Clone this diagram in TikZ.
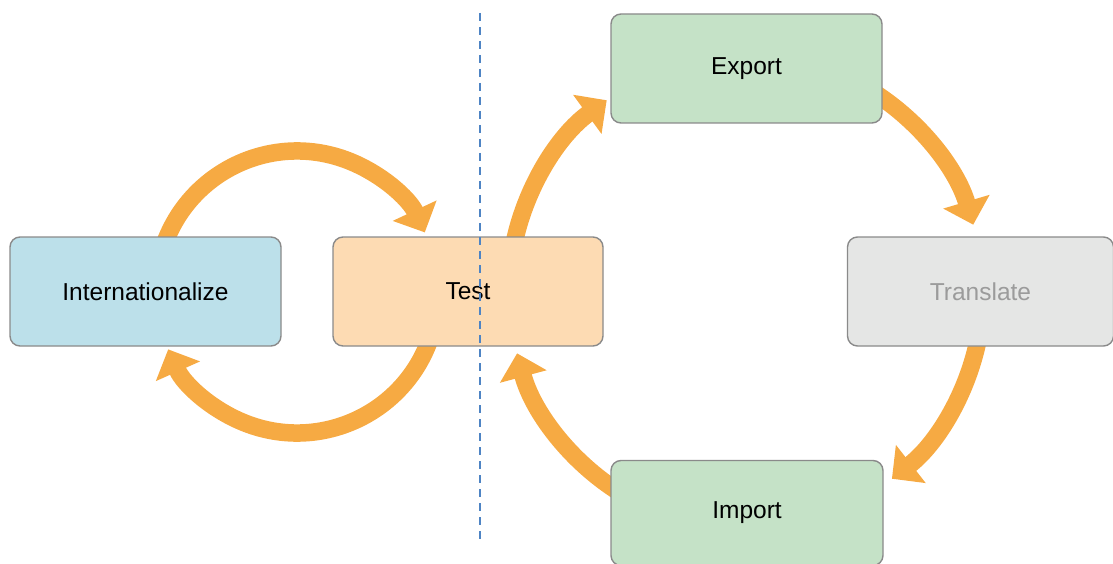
\documentclass[tikz,border=0pt]{standalone}
\usepackage{fontspec}
\setmainfont{Liberation Sans}
\usetikzlibrary{arrows.meta,backgrounds}

\definecolor{flow}{HTML}{F6AA43}
\definecolor{boxline}{HTML}{8A8A8A}
\definecolor{intlfill}{HTML}{BCE0EA}
\definecolor{testfill}{HTML}{FDDBB3}
\definecolor{locfill}{HTML}{C5E2C7}
\definecolor{transfill}{HTML}{E5E6E5}
\definecolor{transtext}{HTML}{9B9B9B}
\definecolor{divider}{HTML}{4E84C4}

\tikzset{
  stage/.style={draw=boxline, line width=1.4pt, rounded corners=10pt,
    minimum height=109pt, inner sep=0pt,
    font=\fontsize{24.5}{29}\selectfont},
  flowarrow/.style={draw=flow, line width=17.5pt,
    -{Triangle[length=24pt 0 0, width=47pt 0 0]}},
  divline/.style={draw=divider, line width=2pt, dash pattern=on 8pt off 6pt}
}

\begin{document}
\begin{tikzpicture}[x=1pt, y=1pt]
  \useasboundingbox (0,0) rectangle (1113,-564);

  % stages
  \node[stage, fill=intlfill, minimum width=271pt] (intl) at (145.5,-291.5) {Internationalize};
  \node[stage, fill=testfill, minimum width=270pt] (test) at (468,-291.5) {Test};
  \node[stage, fill=locfill, minimum width=271pt] (export) at (746.5,-68.5) {Export};
  \node[stage, fill=transfill, minimum width=266pt, text=transtext] (translate) at (980.5,-291.5) {Translate};
  \node[stage, fill=locfill, minimum width=272pt, minimum height=105pt] (import) at (747,-513) {Import};

  % centres of the two cycles
  \coordinate (devloop) at (297,-292);
  \coordinate (locloop) at (746,-292);

  \begin{scope}[on background layer]
    % development cycle
    \draw[flowarrow] (devloop) ++(160:141) arc[start angle=160, end angle=25, radius=141];
    \draw[flowarrow] (devloop) ++(-20:141) arc[start angle=-20, end angle=-156, radius=141];
    % localization cycle
    \draw[flowarrow] (locloop) ++(169:237) arc[start angle=169, end angle=126, radius=237];
    \draw[flowarrow] (locloop) ++(58:237) arc[start angle=58, end angle=16.5, radius=237];
    \draw[flowarrow] (locloop) ++(-11:237) arc[start angle=-11, end angle=-52, radius=237];
    \draw[flowarrow] (locloop) ++(-122:237) arc[start angle=-122, end angle=-165, radius=237];
  \end{scope}

  % divider
  \coordinate (divtop) at (480,-13);
  \coordinate (divbot) at (480,-540);
  \draw[divline] (divtop) -- (divbot);
\end{tikzpicture}
\end{document}
